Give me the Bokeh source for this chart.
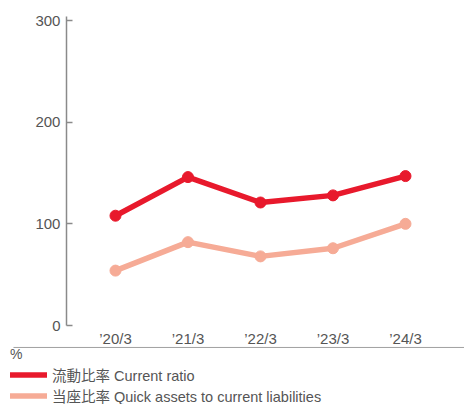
from bokeh.plotting import figure
from bokeh.models import Range1d, FixedTicker, Legend, LegendItem, ColumnDataSource
from bokeh.embed import file_html
from bokeh.resources import INLINE

years = ["\u201920/3", "\u201921/3", "\u201922/3", "\u201923/3", "\u201924/3"]
current_ratio = [108, 146, 121, 128, 147]
quick_ratio = [54, 82, 68, 76, 100]
y_ticks = [0, 100, 200, 300]
unit_label = "%"
series_names = ["\u6d41\u52d5\u6bd4\u7387 Current ratio",
                "\u5f53\u5ea7\u6bd4\u7387 Quick assets to current liabilities"]

RED = "#E8192C"
SALMON = "#F6AB96"
TEXT = "#555555"
AXIS = "#8a8a8a"
FONT = "Liberation Sans, Noto Sans CJK JP"

W, H = 464, 404
idx = list(range(len(years)))

p = figure(x_range=Range1d(-1.586, 4.814), y_range=Range1d(-77.7, 319.7),
           width=W, height=H, output_backend="svg", toolbar_location=None,
           min_border=0)
p.outline_line_color = None
p.grid.grid_line_color = None
p.background_fill_color = None
p.border_fill_color = None

src = ColumnDataSource(dict(x=idx, cur=current_ratio, qk=quick_ratio))
rq = p.line("x", "qk", source=src, line_color=SALMON, line_width=5.5,
            line_join="round", line_cap="round")
p.scatter("x", "qk", source=src, size=11, color=SALMON)
rc = p.line("x", "cur", source=src, line_color=RED, line_width=5.5,
            line_join="round", line_cap="round")
p.scatter("x", "cur", source=src, size=11, color=RED)

# horizontal rule under the category labels
p.segment(x0=[-1.407], y0=[-21.6], x1=[4.814], y1=[-21.6], line_color="#a0a0a0", line_width=1)

ya = p.yaxis[0]
ya.fixed_location = -0.676
ya.bounds = (0, 304)
ya.ticker = FixedTicker(ticks=y_ticks)
ya.axis_line_color = AXIS
ya.axis_line_width = 1.5
ya.major_tick_line_color = AXIS
ya.major_tick_line_width = 1.5
ya.major_tick_in = 6
ya.major_tick_out = 0
ya.minor_tick_line_color = None
ya.major_label_standoff = 6
ya.major_label_text_font = FONT
ya.major_label_text_font_size = "15px"
ya.major_label_text_color = TEXT

xa = p.xaxis[0]
xa.fixed_location = 0
xa.ticker = FixedTicker(ticks=idx)
xa.major_label_overrides = {i: years[i] for i in idx}
xa.axis_line_color = None
xa.major_tick_line_color = None
xa.major_tick_in = 0
xa.major_tick_out = 0
xa.minor_tick_line_color = None
xa.major_label_standoff = 4
xa.major_label_text_font = FONT
xa.major_label_text_font_size = "15px"
xa.major_label_text_color = TEXT

leg = Legend(items=[LegendItem(label=series_names[0], renderers=[rc]),
                    LegendItem(label=series_names[1], renderers=[rq])],
             location=(10, -2), title=unit_label, title_standoff=2,
             padding=0, margin=0, spacing=-3, glyph_width=37, glyph_height=19,
             label_height=19, label_standoff=5,
             border_line_color=None, background_fill_alpha=0)
leg.label_text_font = FONT
leg.label_text_font_size = "14.5px"
leg.label_text_color = TEXT
leg.title_text_font = FONT
leg.title_text_font_size = "14px"
leg.title_text_font_style = "normal"
leg.title_text_color = TEXT
p.add_layout(leg)

open("out.html", "w").write(file_html(p, INLINE))
